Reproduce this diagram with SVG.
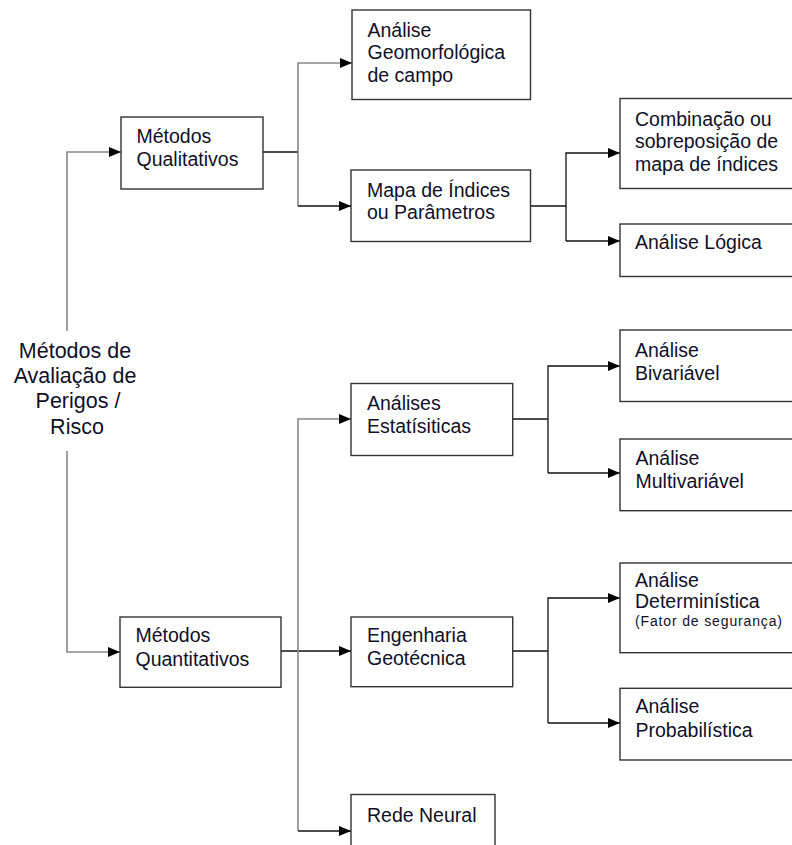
<svg xmlns="http://www.w3.org/2000/svg" width="792" height="845" viewBox="0 0 792 845">
<defs>
<style>
.box{fill:#fff;stroke:#333;stroke-width:1.4}
.t{font-family:"Liberation Sans",Arial,sans-serif;font-size:19.5px;fill:#101028}
.title{font-family:"Liberation Sans",Arial,sans-serif;font-size:21.5px;fill:#101028;text-anchor:middle}
.small{font-family:"Liberation Sans",Arial,sans-serif;font-size:14px;fill:#101028}
.cg{fill:none;stroke:#888;stroke-width:1.6}
.ck{fill:none;stroke:#111;stroke-width:1.3}
</style>
<marker id="ah" viewBox="0 0 12 10" refX="12" refY="5" markerWidth="12" markerHeight="10" markerUnits="userSpaceOnUse" orient="auto">
<path d="M0,0 L12,5 L0,10 Z" fill="#000"/>
</marker>
</defs>
<rect width="792" height="845" fill="#fff"/>
<g id="connectors">
<path class="cg" d="M67,331 V152 H121" marker-end="url(#ah)"/>
<path class="cg" d="M67,451 V652 H120" marker-end="url(#ah)"/>
<path class="ck" d="M263,152 H298"/>
<path class="cg" d="M298,206 V63 H352" marker-end="url(#ah)"/>
<path class="ck" d="M298,206 H351" marker-end="url(#ah)"/>
<path class="ck" d="M531,206 H566"/>
<path class="ck" d="M566,241 V153 H620" marker-end="url(#ah)"/>
<path class="ck" d="M566,241 H620" marker-end="url(#ah)"/>
<path class="ck" d="M281,651 H351" marker-end="url(#ah)"/>
<path class="cg" d="M298,831 V419 H351" marker-end="url(#ah)"/>
<path class="ck" d="M298,831 H351" marker-end="url(#ah)"/>
<path class="ck" d="M513,419 H548"/>
<path class="ck" d="M548,473 V366 H620" marker-end="url(#ah)"/>
<path class="ck" d="M548,473 H620" marker-end="url(#ah)"/>
<path class="ck" d="M513,651 H548"/>
<path class="ck" d="M548,723 V598 H620" marker-end="url(#ah)"/>
<path class="ck" d="M548,723 H620" marker-end="url(#ah)"/>
</g>
<g id="root">
<text class="title" x="75" y="358">Métodos de</text>
<text class="title" x="75" y="383">Avaliação de</text>
<text class="title" x="78" y="408">Perigos /</text>
<text class="title" x="77" y="434">Risco</text>
</g>
<g id="qualitativos">
<rect class="box" x="121" y="117" width="142" height="72"/>
<text class="t" x="136.5" y="143.3">Métodos</text>
<text class="t" x="136.5" y="165.7">Qualitativos</text>
</g>
<g id="geomorfologica">
<rect class="box" x="352" y="10" width="178.5" height="89.5"/>
<text class="t" x="367.5" y="37">Análise</text>
<text class="t" x="367.5" y="59.3">Geomorfológica</text>
<text class="t" x="367.5" y="81.7">de campo</text>
</g>
<g id="mapa">
<rect class="box" x="351" y="170" width="179.5" height="71.5"/>
<text class="t" x="367" y="196.7">Mapa de Índices</text>
<text class="t" x="367" y="218.5">ou Parâmetros</text>
</g>
<g id="combinacao">
<rect class="box" x="620" y="98.5" width="190" height="90"/>
<text class="t" x="635" y="126">Combinação ou</text>
<text class="t" x="635" y="148.3">sobreposição de</text>
<text class="t" x="635" y="170.6">mapa de índices</text>
</g>
<g id="logica">
<rect class="box" x="620" y="224" width="190" height="52.5"/>
<text class="t" x="635" y="249.3">Análise Lógica</text>
</g>
<g id="estatisticas">
<rect class="box" x="351" y="383.5" width="161.7" height="72"/>
<text class="t" x="367" y="410">Análises</text>
<text class="t" x="367" y="432.7">Estatísiticas</text>
</g>
<g id="bivariavel">
<rect class="box" x="620" y="330" width="190" height="71.5"/>
<text class="t" x="635" y="357.3">Análise</text>
<text class="t" x="635" y="380">Bivariável</text>
</g>
<g id="multivariavel">
<rect class="box" x="620" y="439" width="190" height="71.7"/>
<text class="t" x="635.5" y="465">Análise</text>
<text class="t" x="635.5" y="488.3">Multivariável</text>
</g>
<g id="quantitativos">
<rect class="box" x="120" y="617" width="161" height="70.3"/>
<text class="t" x="135.5" y="641.7">Métodos</text>
<text class="t" x="135.5" y="666">Quantitativos</text>
</g>
<g id="engenharia">
<rect class="box" x="351" y="617" width="161.7" height="69.7"/>
<text class="t" x="367" y="641.7">Engenharia</text>
<text class="t" x="367" y="665">Geotécnica</text>
</g>
<g id="deterministica">
<rect class="box" x="620" y="563" width="190" height="89.7"/>
<text class="t" x="635" y="586.7">Análise</text>
<text class="t" x="635" y="607.7">Determinística</text>
<text class="small" x="635" y="626" textLength="147" lengthAdjust="spacing">(Fator de segurança)</text>
</g>
<g id="probabilistica">
<rect class="box" x="620" y="688.3" width="190" height="71.7"/>
<text class="t" x="635.5" y="713.3">Análise</text>
<text class="t" x="635.5" y="736.7">Probabilística</text>
</g>
<g id="redeneural">
<rect class="box" x="351" y="794.5" width="144" height="70"/>
<text class="t" x="367" y="821.7">Rede Neural</text>
</g>
</svg>
